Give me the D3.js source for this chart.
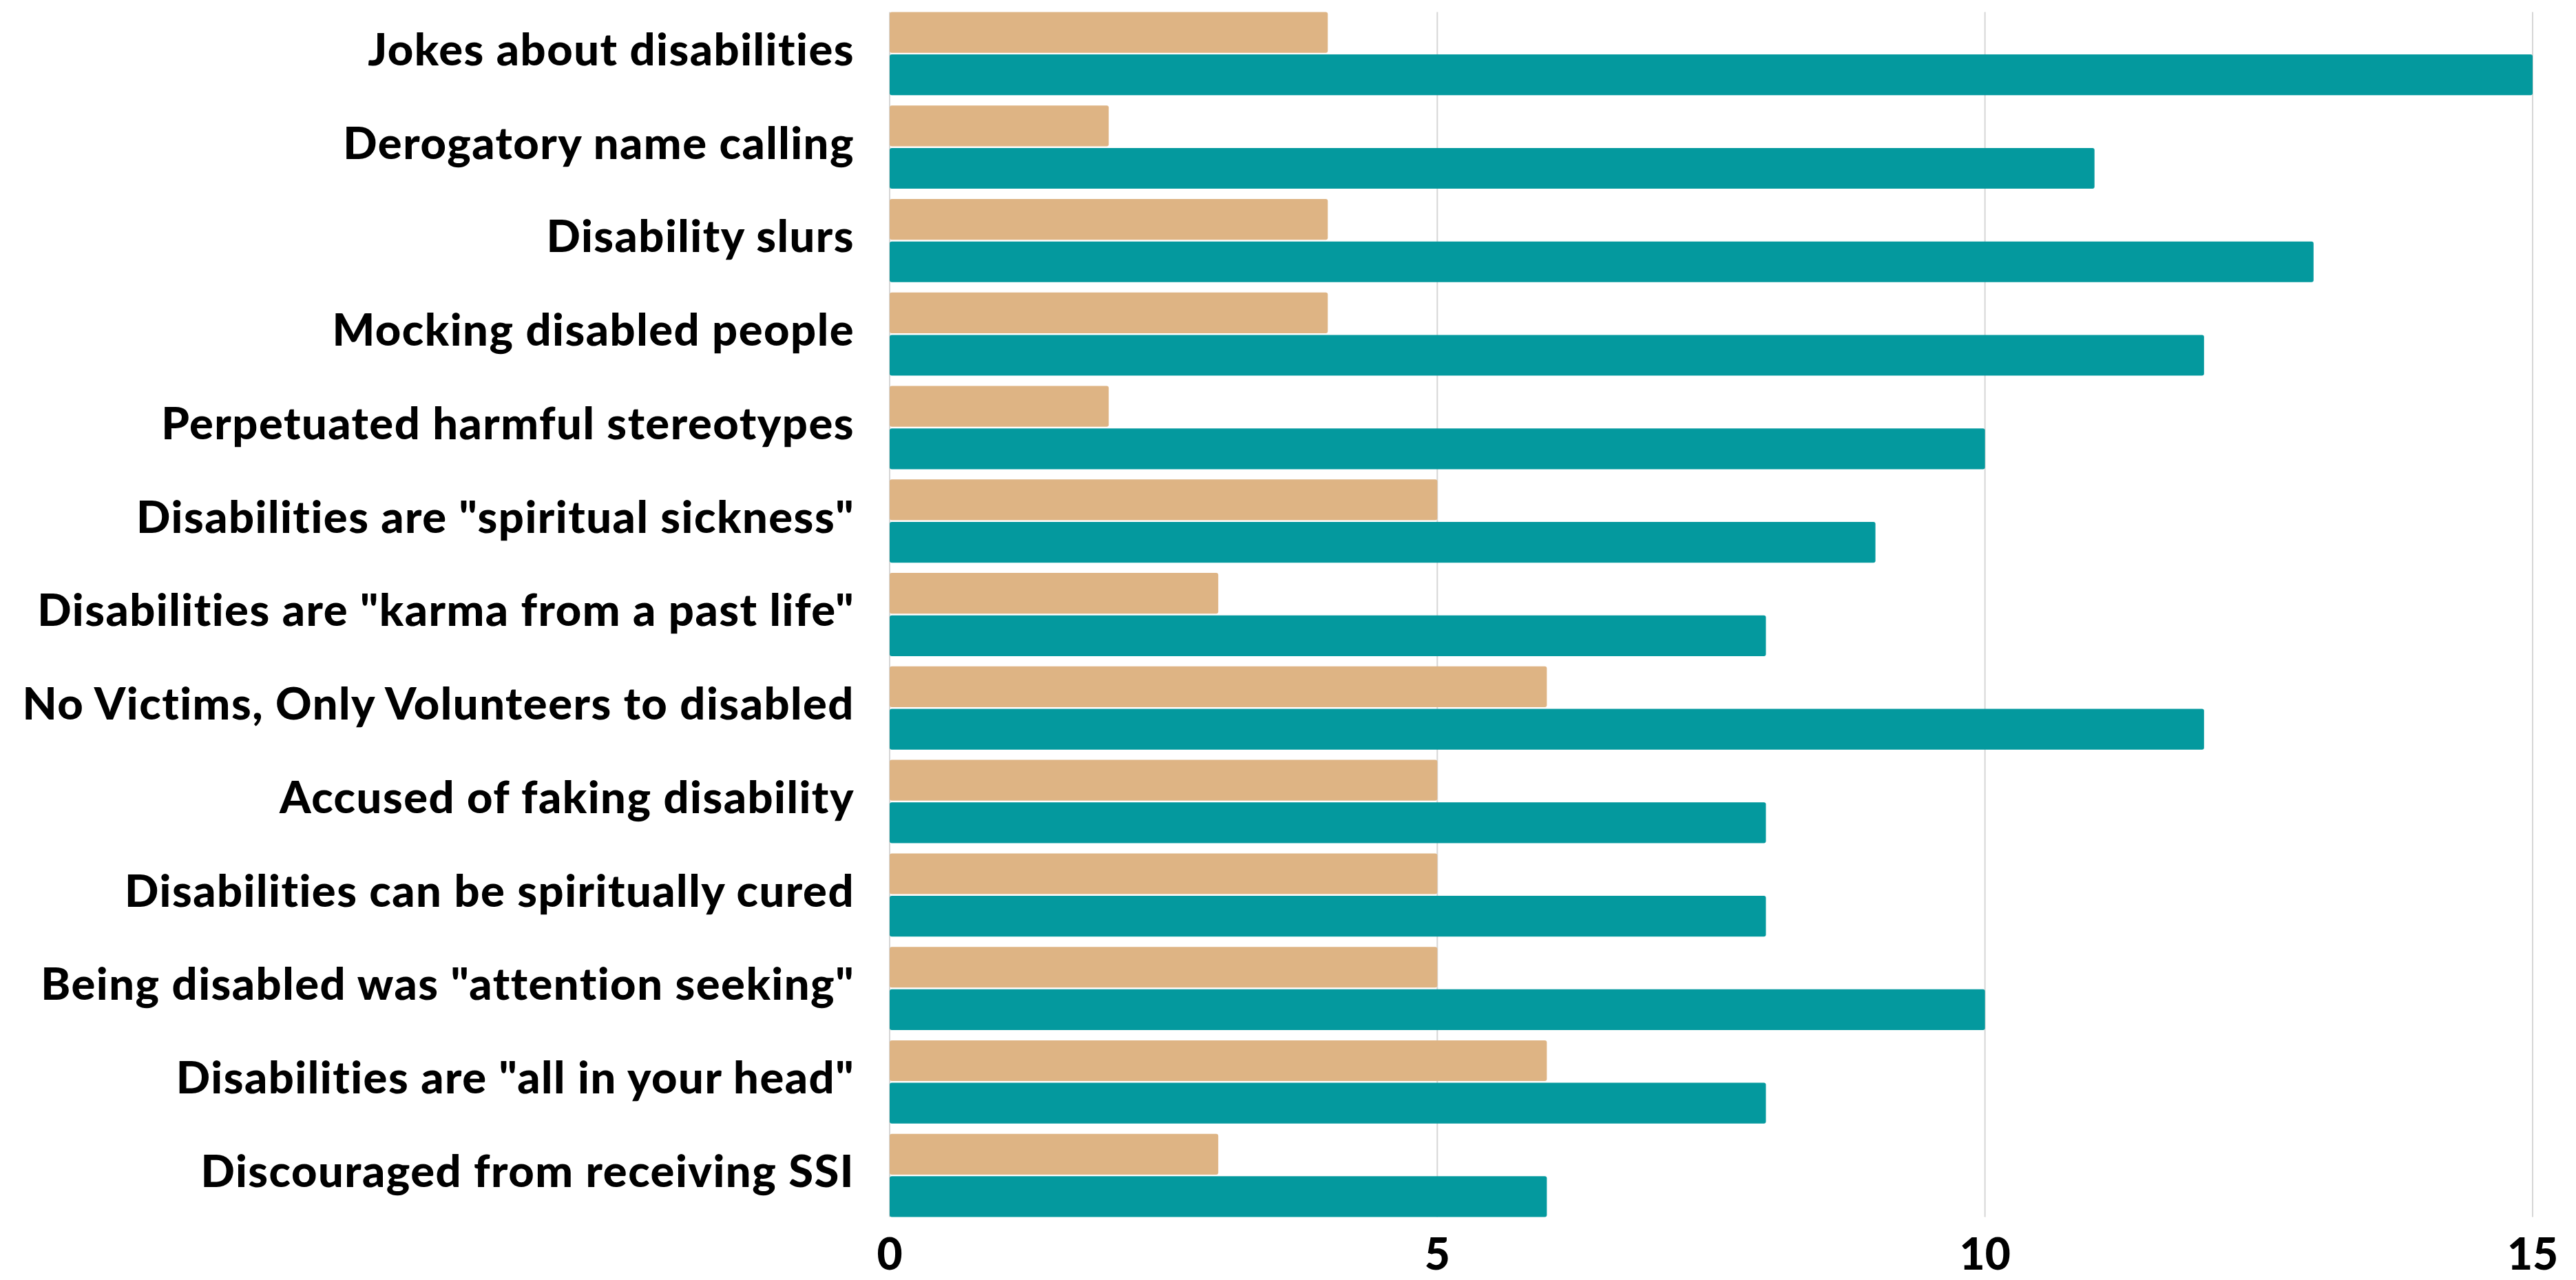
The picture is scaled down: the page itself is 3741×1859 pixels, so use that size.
<!DOCTYPE html>
<html>
<head>
<meta charset="utf-8">
<script src="https://cdn.jsdelivr.net/npm/d3@7"></script>
<style>
  html, body { margin: 0; padding: 0; background: #fff; }
  svg text { font-family: Lato, "Open Sans", sans-serif; font-weight: 900; fill: #000; }
</style>
</head>
<body>
<div id="chart"></div>
<script>
// categories, top to bottom
const categories = [
    'Jokes about disabilities',
    'Derogatory name calling',
    'Disability slurs',
    'Mocking disabled people',
    'Perpetuated harmful stereotypes',
    'Disabilities are "spiritual sickness"',
    'Disabilities are "karma from a past life"',
    'No Victims, Only Volunteers to disabled',
    'Accused of faking disability',
    'Disabilities can be spiritually cured',
    'Being disabled was "attention seeking"',
    'Disabilities are "all in your head"',
    'Discouraged from receiving SSI'
];
const seriesNames = ['tan', 'teal'];
const tanValues = [4, 2, 4, 4, 2, 5, 3, 6, 5, 5, 5, 6, 3];
const tealValues = [15, 11, 13, 12, 10, 9, 8, 12, 8, 8, 10, 8, 6];
const xTicks = [0, 5, 10, 15];

const width = 3741, height = 1859;
const margin = { top: 10, right: 63, bottom: 84, left: 1292 };
const colors = { tan: '#DEB484', teal: '#04999E' };

const svg = d3.select('#chart').append('svg')
    .attr('width', width)
    .attr('height', height);

const x = d3.scaleLinear()
    .domain([0, 15])
    .range([margin.left, width - margin.right]);

const y = d3.scaleBand()
    .domain(categories)
    .range([margin.top, height - margin.bottom])
    .paddingInner(0.11)
    .paddingOuter(0.055);

const ySub = d3.scaleBand()
    .domain(seriesNames)
    .range([0, y.bandwidth()])
    .paddingInner(0.04);

const gridTop = y(categories[0]);
const gridBottom = y(categories[categories.length - 1]) + y.bandwidth();

// vertical gridlines
svg.append('g')
    .selectAll('line')
    .data(xTicks)
    .enter().append('line')
    .attr('x1', d => x(d))
    .attr('x2', d => x(d))
    .attr('y1', gridTop)
    .attr('y2', gridBottom)
    .attr('stroke', '#d6d6d6')
    .attr('stroke-width', 2);

const rows = categories.map((c, i) => ({ cat: c, tan: tanValues[i], teal: tealValues[i] }));

const groups = svg.append('g')
    .selectAll('g')
    .data(rows)
    .enter().append('g')
    .attr('transform', d => `translate(0,${y(d.cat)})`);

groups.selectAll('rect')
    .data(d => seriesNames.map(s => ({ key: s, value: d[s] })))
    .enter().append('rect')
    .attr('x', x(0))
    .attr('y', d => ySub(d.key))
    .attr('width', d => x(d.value) - x(0))
    .attr('height', ySub.bandwidth())
    .attr('rx', 3)
    .attr('fill', d => colors[d.key]);

// category labels
svg.append('g')
    .selectAll('text')
    .data(categories)
    .enter().append('text')
    .attr('x', margin.left - 51)
    .attr('y', d => y(d) + y.bandwidth() / 2)
    .attr('dy', '0.26em')
    .attr('text-anchor', 'end')
    .attr('font-size', 65)
    .attr('letter-spacing', 1.5)
    .text(d => d);

// x tick labels
svg.append('g')
    .selectAll('text')
    .data(xTicks)
    .enter().append('text')
    .attr('x', d => x(d))
    .attr('y', 1844)
    .attr('text-anchor', 'middle')
    .attr('font-size', 64)
    .text(d => d);
</script>
</body>
</html>
